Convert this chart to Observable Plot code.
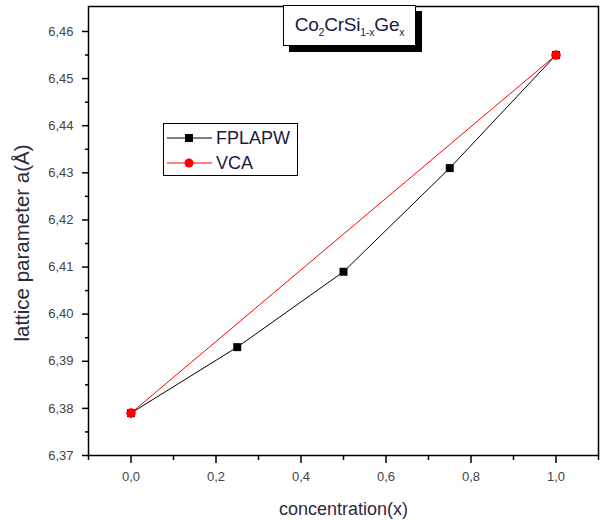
<!DOCTYPE html>
<html>
<head>
<meta charset="utf-8">
<script src="https://cdn.jsdelivr.net/npm/d3@7"></script>
<script src="https://cdn.jsdelivr.net/npm/@observablehq/plot@0.6"></script>
<style>
  html, body { margin: 0; padding: 0; background: #fff; }
  #wrap { position: relative; width: 601px; height: 521px; font-family: "Liberation Sans", Arial, sans-serif; }
  #title {
    position: absolute; left: 283px; top: 5px; width: 131px; height: 39px;
    border: 1.5px solid #000; background: #fff; box-shadow: 6px 6px 0 #000;
    font-size: 19px; color: #1a1a40; text-align: center; line-height: 38px; letter-spacing: -0.2px;
  }
  #title sub { font-size: 10.5px; vertical-align: -5px; line-height: 0; }
  #legend {
    position: absolute; left: 163px; top: 123px; width: 133px; height: 51px;
    border: 1.5px solid #000; background: #fff; font-size: 18px; color: #1a1a40;
  }
  #legend .row { position: absolute; left: 3px; height: 24px; display: flex; align-items: center; }
  #legend svg { display: block; }
  #legend span { margin-left: 4px; }
</style>
</head>
<body>
<div id="wrap"></div>
<script>
// ---- data ----
const conc = [0, 0.25, 0.5, 0.75, 1.0];
const fplapw = [6.379, 6.393, 6.409, 6.431, 6.455];
const vcaConc = [0, 1.0];
const vca = [6.379, 6.455];
const seriesNames = ["FPLAPW", "VCA"];
const xMajor = [0, 0.2, 0.4, 0.6, 0.8, 1.0];
const xMinor = [-0.1, 0.1, 0.3, 0.5, 0.7, 0.9, 1.1];
const yMajor = [6.37, 6.38, 6.39, 6.40, 6.41, 6.42, 6.43, 6.44, 6.45, 6.46];
const yMinor = [6.375, 6.385, 6.395, 6.405, 6.415, 6.425, 6.435, 6.445, 6.455];
const xLabel = "concentration(x)";
const yLabel = "lattice parameter a(Å)";

const dataF = conc.map((c, i) => ({x: c, y: fplapw[i]}));
const dataV = vcaConc.map((c, i) => ({x: c, y: vca[i]}));

const fmtX = d => d.toFixed(1).replace(".", ",");
const fmtY = d => d.toFixed(2).replace(".", ",");

const chart = Plot.plot({
  width: 601,
  height: 521,
  marginLeft: 88,
  marginRight: 3,
  marginTop: 6,
  marginBottom: 66,
  style: {fontFamily: "Liberation Sans, Arial, sans-serif", background: "#fff"},
  x: {domain: [-0.1, 1.1]},
  y: {domain: [6.37, 6.4653]},
  marks: [
    Plot.axisX({ticks: xMajor, tickSize: 8, tickPadding: 8, tickFormat: fmtX, label: null, fontSize: 13, fill: "#444", stroke: "#000", strokeWidth: 1.5, letterSpacing: 0.8}),
    Plot.axisX({ticks: xMinor, tickSize: 5, tickFormat: () => "", label: null, stroke: "#000", strokeWidth: 1.5}),
    Plot.axisY({ticks: yMajor, tickSize: 6, tickPadding: 9, tickFormat: fmtY, label: null, fontSize: 13, fill: "#444", stroke: "#000", strokeWidth: 1.5, letterSpacing: 0.8}),
    Plot.axisY({ticks: yMinor, tickSize: 3, tickFormat: () => "", label: null, stroke: "#000", strokeWidth: 1.5}),
    Plot.frame({stroke: "#000", strokeWidth: 1.5}),
    Plot.line(dataF, {x: "x", y: "y", stroke: "#000", strokeWidth: 1}),
    Plot.dot(dataF, {x: "x", y: "y", symbol: "square", r: 4.5, fill: "#000", stroke: "none"}),
    Plot.line(dataV, {x: "x", y: "y", stroke: "#ff0000", strokeWidth: 1}),
    Plot.dot(dataV, {x: "x", y: "y", symbol: "circle", r: 4.8, fill: "#ff0000", stroke: "none"}),
    Plot.text([xLabel], {frameAnchor: "bottom", textAnchor: "middle", dy: 59, fontSize: 18, fill: "#2a2a40", letterSpacing: 0.5}),
    Plot.text([yLabel], {frameAnchor: "left", textAnchor: "middle", dx: -66, dy: 12, rotate: -90, fontSize: 20.5, fill: "#2a2a40", letterSpacing: 0.3})
  ]
});

const wrap = document.getElementById("wrap");
wrap.appendChild(chart);

// title box
const title = document.createElement("div");
title.id = "title";
title.innerHTML = "Co<sub>2</sub>CrSi<sub>1-x</sub>Ge<sub>x</sub>";
wrap.appendChild(title);

// legend
const legend = document.createElement("div");
legend.id = "legend";
const legendStyles = [
  {color: "#000", symbol: "square"},
  {color: "#ff0000", symbol: "circle"}
];
seriesNames.forEach((name, i) => {
  const row = document.createElement("div");
  row.className = "row";
  row.style.top = (2 + i * 25) + "px";
  const st = legendStyles[i];
  const marker = st.symbol === "square"
    ? `<rect x="18" y="7" width="8" height="8" fill="${st.color}"/>`
    : `<circle cx="22" cy="11" r="4.5" fill="${st.color}"/>`;
  row.innerHTML = `<svg width="45" height="22"><line x1="0" y1="11" x2="45" y2="11" stroke="${st.color}" stroke-width="1"/>${marker}</svg><span>${name}</span>`;
  legend.appendChild(row);
});
wrap.appendChild(legend);
</script>
</body>
</html>
